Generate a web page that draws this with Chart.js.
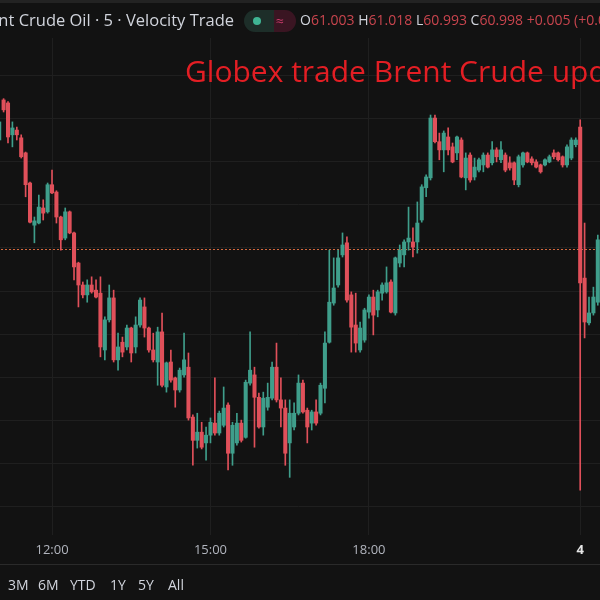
<!DOCTYPE html>
<html lang="en">
<head>
  <meta charset="UTF-8" />
  <title>Brent Crude Oil 5m</title>
  <script src="https://cdn.jsdelivr.net/npm/chart.js"></script>
  <style>
    html, body { margin: 0; padding: 0; }
    body {
      width: 600px; height: 600px; overflow: hidden; position: relative;
      background: #121212; font-family: 'Open Sans', sans-serif; color: #d1d4dc;
    }
    #wrap { position: absolute; left: -3px; top: 0; width: 603px; height: 600px; }
    .topband { position: absolute; left: 0; top: 0; width: 600px; height: 3px; background: #232323; }
    .symbol { position: absolute; right: 366px; top: 8px; font-size: 16.5px; white-space: nowrap; }
    .pill { position: absolute; top: 10px; height: 22px; border-radius: 11px; }
    .pill.up { left: 244px; width: 30px; background: #1d2e29; border-radius: 11px 0 0 11px; }
    .pill.up::after { content: ''; position: absolute; left: 9px; top: 7px; width: 8px; height: 8px; border-radius: 50%; background: #3fb594; }
    .pill.dn { left: 274px; width: 22px; background: #3a1522; border-radius: 0 11px 11px 0; color: #c93a6a; font-size: 14px; line-height: 22px; text-indent: 2px; }
    .ohlc { position: absolute; left: 300px; top: 10px; font-size: 14px; white-space: nowrap; color: #c9454e; }
    .ohlc b { font-weight: normal; color: #d1d4dc; }
    .title { position: absolute; left: 185px; top: 50px; font-size: 30px; color: #e31e24; white-space: nowrap; }
    .sep { position: absolute; left: 0; top: 564px; width: 600px; height: 1px; background: #2a2a2a; }
    .ranges { position: absolute; top: 575px; left: 0; font-size: 14px; color: #d1d4dc; }
    .ranges span { position: absolute; white-space: nowrap; }
  </style>
</head>
<body>
  <div id="wrap"><canvas id="chart" width="603" height="600"></canvas></div>
  <div class="topband"></div>
  <div class="symbol">Brent Crude Oil · 5 · Velocity Trade</div>
  <div class="pill up"></div>
  <div class="pill dn">≈</div>
  <div class="ohlc"><b>O</b>61.003 <b>H</b>61.018 <b>L</b>60.993 <b>C</b>60.998 +0.005 (+0.01%)</div>
  <div class="title">Globex trade Brent Crude update</div>
  <div class="sep"></div>
  <div class="ranges">
    <span style="left:8px">3M</span><span style="left:38px">6M</span><span style="left:70px">YTD</span>
    <span style="left:110px">1Y</span><span style="left:138px">5Y</span><span style="left:168px">All</span>
  </div>

  <script>
    // 5 minute bars, 11:00 -> 21:55, then the day 4 open
    const categories = [];
    for (let i = 0; i < 132; i++) {
      const m = 11 * 60 + i * 5;
      categories.push(String(Math.floor(m / 60)).padStart(2, '0') + ':' + String(m % 60).padStart(2, '0'));
    }
    categories.push('4', '00:05', '00:10', '00:15', '00:20');

    const tickLabels = ['12:00', '15:00', '18:00', '4'];

    const opens = [
      61.251, 61.344, 61.337, 61.263, 61.274, 61.256, 61.221, 61.151, 61.053, 61.058,
      61.093, 61.084, 61.147, 61.130, 61.072, 61.023, 61.084, 61.035, 60.965, 60.914,
      60.891, 60.914, 60.902, 60.895, 60.763, 60.833, 60.884, 60.740, 60.781, 60.770,
      60.814, 60.770, 60.821, 60.863, 60.814, 60.763, 60.735, 60.805, 60.677, 60.735,
      60.698, 60.670, 60.705, 60.723, 60.607, 60.553, 60.572, 60.547, 60.565, 60.593,
      60.570, 60.588, 60.635, 60.523, 60.547, 60.593, 60.560, 60.686, 60.705, 60.653,
      60.584, 60.630, 60.651, 60.723, 60.647, 60.628, 60.547, 60.584, 60.616, 60.686,
      60.623, 60.593, 60.619, 60.616, 60.674, 60.781, 60.872, 60.914, 60.984, 61.012,
      60.891, 60.821, 60.763, 60.786, 60.851, 60.886, 60.856, 60.895, 60.898, 60.921,
      60.849, 60.965, 60.984, 61.014, 61.014, 61.014, 61.065, 61.140, 61.163, 61.302,
      61.247, 61.228, 61.258, 61.235, 61.221, 61.251, 61.163, 61.216, 61.165, 61.181,
      61.193, 61.216, 61.198, 61.228, 61.205, 61.216, 61.198, 61.198, 61.147, 61.193,
      61.221, 61.207, 61.200, 61.193, 61.193, 61.200, 61.221, 61.221, 61.212, 61.193,
      61.209, 61.240, 61.281, 60.930, 60.826, 60.849, 60.874
    ];
    const highs = [
      61.305, 61.347, 61.340, 61.293, 61.281, 61.263, 61.223, 61.153, 61.072, 61.123,
      61.112, 61.151, 61.181, 61.133, 61.074, 61.093, 61.086, 61.037, 60.967, 60.921,
      60.926, 60.933, 60.926, 60.933, 60.840, 60.914, 60.902, 60.802, 60.793, 60.821,
      60.816, 60.840, 60.884, 60.884, 60.816, 60.802, 60.816, 60.849, 60.735, 60.763,
      60.700, 60.721, 60.802, 60.756, 60.612, 60.616, 60.595, 60.584, 60.605, 60.698,
      60.621, 60.677, 60.640, 60.595, 60.616, 60.600, 60.693, 60.805, 60.723, 60.663,
      60.665, 60.686, 60.735, 60.779, 60.698, 60.647, 60.647, 60.640, 60.705, 60.693,
      60.628, 60.623, 60.647, 60.686, 60.805, 60.995, 60.977, 60.995, 61.035, 61.026,
      60.898, 60.895, 60.828, 60.860, 60.891, 60.902, 60.902, 60.919, 60.956, 60.926,
      60.979, 61.007, 61.019, 61.095, 61.047, 61.107, 61.147, 61.170, 61.309, 61.309,
      61.267, 61.272, 61.279, 61.244, 61.260, 61.256, 61.221, 61.221, 61.209, 61.209,
      61.221, 61.221, 61.247, 61.233, 61.247, 61.221, 61.212, 61.200, 61.216, 61.223,
      61.223, 61.212, 61.205, 61.195, 61.207, 61.216, 61.228, 61.223, 61.214, 61.240,
      61.256, 61.256, 61.298, 61.058, 60.886, 60.909, 61.030
    ];
    const lows = [
      61.240, 61.316, 61.244, 61.235, 61.251, 61.209, 61.119, 61.058, 61.012, 61.056,
      61.065, 61.081, 61.126, 61.058, 60.995, 61.019, 61.033, 60.926, 60.863, 60.884,
      60.874, 60.895, 60.884, 60.747, 60.740, 60.828, 60.735, 60.716, 60.747, 60.763,
      60.735, 60.756, 60.816, 60.793, 60.758, 60.735, 60.681, 60.677, 60.665, 60.688,
      60.630, 60.665, 60.700, 60.600, 60.495, 60.535, 60.533, 60.507, 60.547, 60.565,
      60.565, 60.584, 60.484, 60.495, 60.542, 60.549, 60.558, 60.681, 60.537, 60.581,
      60.565, 60.623, 60.647, 60.642, 60.584, 60.495, 60.467, 60.577, 60.612, 60.616,
      60.547, 60.577, 60.588, 60.612, 60.640, 60.779, 60.867, 60.909, 60.979, 60.874,
      60.758, 60.758, 60.758, 60.781, 60.837, 60.798, 60.840, 60.879, 60.895, 60.849,
      60.844, 60.956, 60.956, 60.995, 60.979, 60.988, 61.060, 61.119, 61.158, 61.244,
      61.205, 61.177, 61.216, 61.198, 61.205, 61.163, 61.135, 61.153, 61.158, 61.177,
      61.177, 61.186, 61.193, 61.200, 61.198, 61.177, 61.181, 61.147, 61.142, 61.188,
      61.198, 61.193, 61.186, 61.174, 61.191, 61.198, 61.207, 61.202, 61.188, 61.188,
      61.205, 61.235, 60.437, 60.791, 60.821, 60.844, 60.867
    ];
    const closes = [
      61.293, 61.321, 61.258, 61.279, 61.263, 61.212, 61.147, 61.060, 61.063, 61.095,
      61.081, 61.147, 61.128, 61.072, 61.019, 61.084, 61.035, 60.956, 60.914, 60.891,
      60.914, 60.898, 60.886, 60.770, 60.833, 60.884, 60.740, 60.770, 60.758, 60.814,
      60.756, 60.821, 60.879, 60.814, 60.763, 60.740, 60.805, 60.681, 60.733, 60.693,
      60.670, 60.716, 60.740, 60.605, 60.553, 60.572, 60.537, 60.565, 60.595, 60.570,
      60.616, 60.628, 60.523, 60.588, 60.593, 60.553, 60.688, 60.716, 60.653, 60.584,
      60.651, 60.653, 60.723, 60.647, 60.628, 60.523, 60.616, 60.616, 60.686, 60.619,
      60.584, 60.619, 60.593, 60.681, 60.779, 60.874, 60.907, 60.977, 61.007, 60.879,
      60.816, 60.779, 60.814, 60.856, 60.886, 60.844, 60.898, 60.914, 60.919, 60.851,
      60.977, 60.995, 61.014, 61.023, 61.002, 61.058, 61.142, 61.165, 61.302, 61.247,
      61.228, 61.267, 61.228, 61.200, 61.258, 61.165, 61.209, 61.158, 61.188, 61.205,
      61.216, 61.188, 61.228, 61.212, 61.228, 61.181, 61.186, 61.158, 61.212, 61.221,
      61.200, 61.198, 61.188, 61.177, 61.205, 61.212, 61.212, 61.205, 61.193, 61.235,
      61.251, 61.251, 60.919, 60.828, 60.849, 60.886, 61.019
    ];

    const lastPrice = 60.998;

    const upColor = '#3f9e8b';
    const downColor = '#e0505a';
    const gridColor = '#1f1f1f';
    const colors = opens.map((o, i) => closes[i] >= o ? upColor : downColor);

    // dotted line at the current price, under the candles
    const priceLine = {
      id: 'priceLine',
      beforeDatasetsDraw(chart) {
        const { ctx, chartArea: a, scales: { y } } = chart;
        const py = Math.round(y.getPixelForValue(lastPrice)) + 0.5;
        ctx.save();
        ctx.strokeStyle = '#d2683f';
        ctx.lineWidth = 1;
        ctx.setLineDash([2, 2]);
        ctx.beginPath();
        ctx.moveTo(a.left, py);
        ctx.lineTo(a.right, py);
        ctx.stroke();
        ctx.restore();
      }
    };

    new Chart(document.getElementById('chart'), {
      type: 'bar',
      data: {
        labels: categories,
        datasets: [
          {
            label: 'wick',
            data: lows.map((l, i) => [l, highs[i]]),
            backgroundColor: colors,
            barThickness: 1,
            grouped: false,
            order: 2
          },
          {
            label: 'body',
            data: opens.map((o, i) => [o, closes[i]]),
            backgroundColor: colors,
            barThickness: 3.4,
            minBarLength: 1,
            grouped: false,
            order: 1
          }
        ]
      },
      options: {
        responsive: false,
        animation: false,
        layout: { padding: { top: 38, bottom: 36, left: 0, right: 0 } },
        plugins: { legend: { display: false }, tooltip: { enabled: false } },
        scales: {
          x: {
            offset: true,
            grid: { offset: false, color: gridColor, drawTicks: false },
            border: { display: false },
            ticks: {
              autoSkip: false,
              maxRotation: 0,
              padding: 7,
              color: (c) => c.tick && c.tick.label === '4' ? '#e6e6e6' : '#b2b5be',
              font: (c) => ({ family: 'Open Sans', size: 13, weight: c.tick && c.tick.label === '4' ? 'bold' : 'normal' }),
              callback(v, i) {
                const lab = categories[i];
                return tickLabels.includes(lab) ? lab : null;
              }
            },
            afterFit(s) { s.height = 29; }
          },
          y: {
            min: 60.333,
            max: 61.488,
            grid: { color: gridColor, drawTicks: false },
            border: { display: false },
            ticks: { display: false, stepSize: 0.1, includeBounds: false },
            afterFit(s) { s.width = 0; }
          }
        }
      },
      plugins: [priceLine]
    });
  </script>
</body>
</html>
